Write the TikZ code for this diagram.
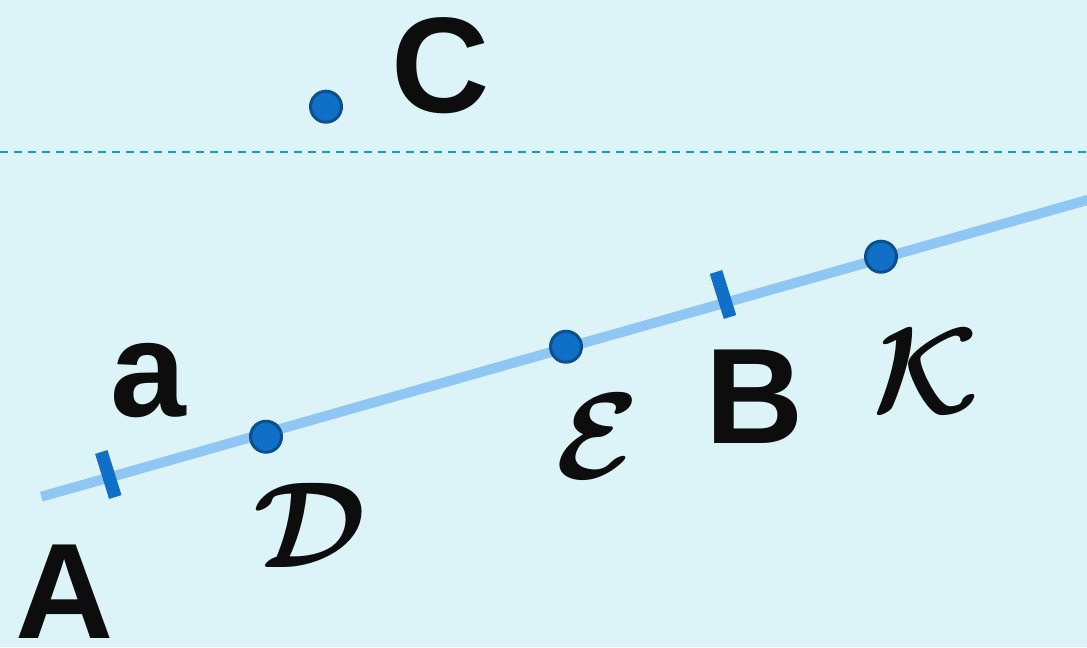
\RequirePackage{fix-cm}
\documentclass[tikz,border=0pt]{standalone}
\usepackage[no-math]{fontspec}
\newfontfamily\labfont{Liberation Sans}
\definecolor{bgc}{HTML}{DCF4F8}
\definecolor{linec}{HTML}{90C6F4}
\definecolor{tickc}{HTML}{1070C8}
\definecolor{dashc}{HTML}{109ED8}
\definecolor{ptfill}{HTML}{1070C8}
\definecolor{ptdraw}{HTML}{0B4F8E}
\definecolor{txt}{HTML}{0D0D0D}
\tikzset{
  mainline/.style={draw=linec, line width=7.5pt, line cap=butt},
  tickmark/.style={draw=tickc, line width=9.75pt, line cap=butt},
  dashline/.style={draw=dashc, line width=1.5pt, dash pattern=on 6pt off 4.5pt},
  pt/.style={circle, fill=ptfill, draw=ptdraw, line width=2.25pt, minimum size=23.25pt, inner sep=0pt},
  lab/.style={inner sep=0pt, text=txt, font=\labfont\bfseries\fontsize{102}{102}\selectfont},
  cal/.style={inner sep=0pt, text=txt, font=\fontsize{92}{92}\selectfont\boldmath}
}
\begin{document}
\begin{tikzpicture}[x=0.75pt,y=-0.75pt]
\fill[bgc] (0,0) rectangle (1087,647);
\useasboundingbox (0,0) rectangle (1087,647);
% dashed horizontal line
\coordinate (h1) at (0,151.7);
\coordinate (h2) at (1090,151.7);
\draw[dashline] (h1) -- (h2);
% main line
\coordinate (L1) at (41.3,496.7);
\coordinate (L2) at (1100,196.4);
\draw[mainline] (L1) -- (L2);
% tick marks
\coordinate (ta1) at (101.3,452);
\coordinate (ta2) at (115.3,497);
\draw[tickmark] (ta1) -- (ta2);
\coordinate (tb1) at (716,272);
\coordinate (tb2) at (730,317);
\draw[tickmark] (tb1) -- (tb2);
% points
\node[pt] (C) at (326,106.7) {};
\node[pt] (D) at (266,436.7) {};
\node[pt] (E) at (566,346.7) {};
\node[pt] (K) at (881,256.7) {};
% labels
\node[lab] (lA) at (64.5,591.5) {A};
\node[lab] (la) at (148.7,380.3) {a};
\node[lab] (lB) at (755,396.7) {B};
\node[lab] (lC) at (440.5,66) {C};
\node[cal] (lD) at (310,525.5) {$\mathcal{D}$};
\node[cal] (lE) at (598.3,436.7) {$\mathcal{E}$};
\node[cal] (lK) at (926,371.5) {$\mathcal{K}$};
\end{tikzpicture}
\end{document}
